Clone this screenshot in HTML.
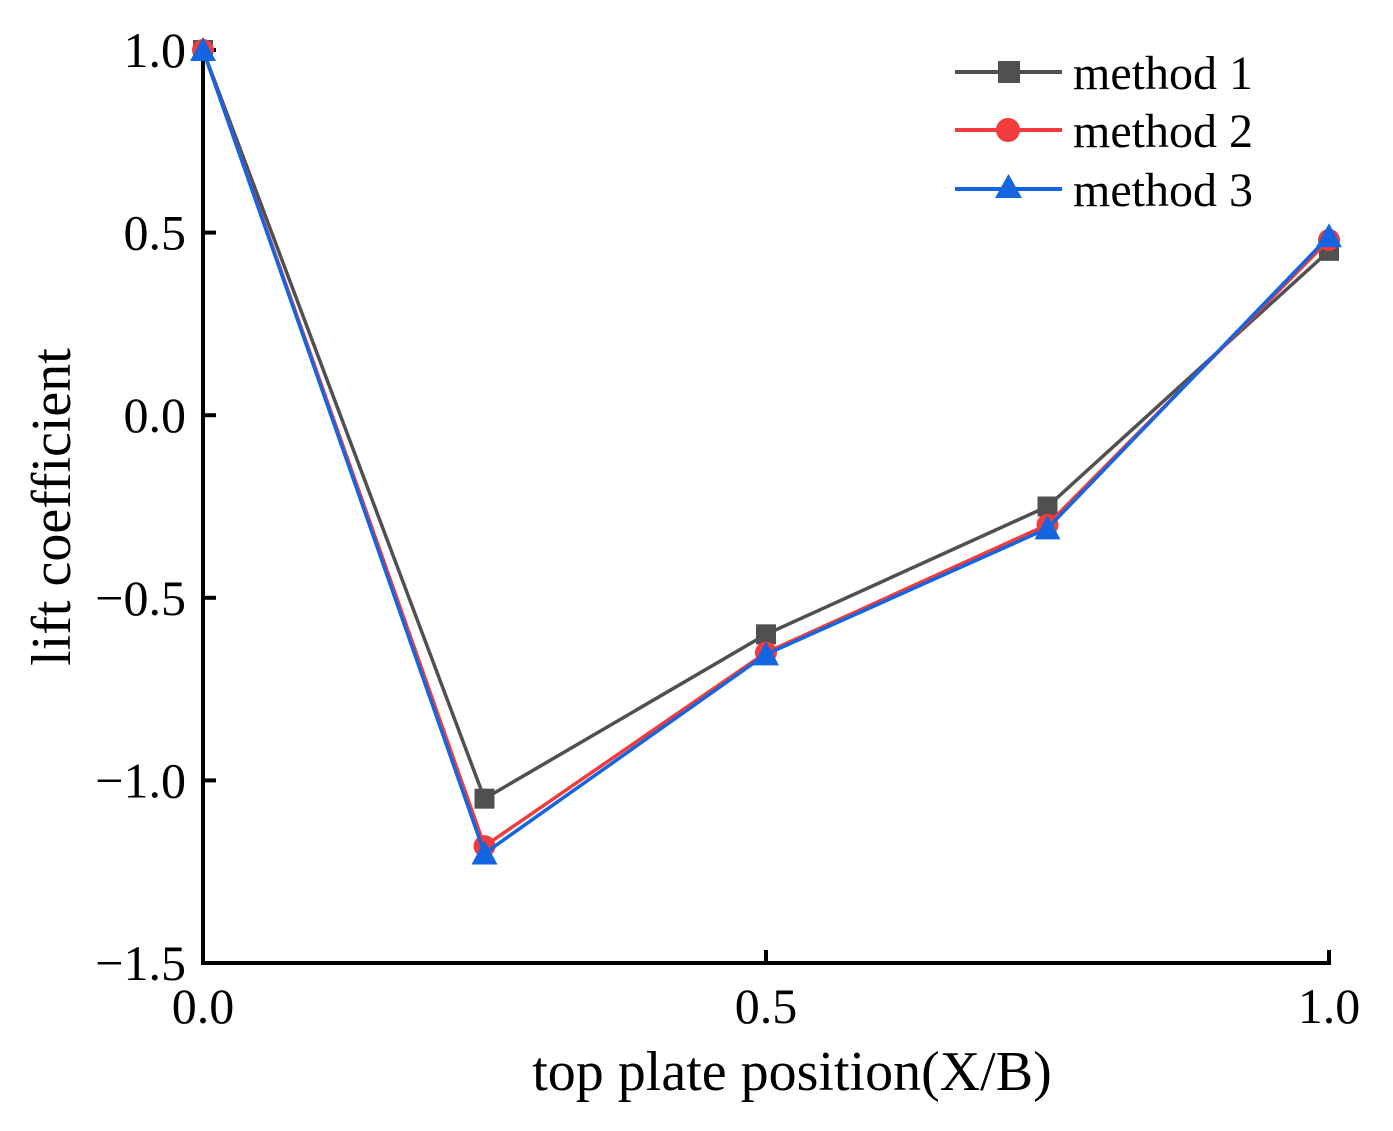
<!DOCTYPE html>
<html><head><meta charset="utf-8"><style>
html,body{margin:0;padding:0;background:#fff;}
svg{display:block;font-family:"Liberation Serif",serif;}
</style></head><body>
<svg id="chart" width="1393" height="1131">
<g id="axes"></g><g id="series"></g>
<g>
 <g>
  <line x1="955" y1="72" x2="1062" y2="72" stroke="#505050" stroke-width="4"/>
  <rect x="998" y="61" width="22" height="22" fill="#505050"/>
  <text x="1073" y="89" font-size="48">method 1</text></g>
 <g>
  <line x1="955" y1="130" x2="1062" y2="130" stroke="#f03c3c" stroke-width="4"/>
  <circle cx="1008" cy="130" r="12" fill="#f03c3c"/>
  <text x="1073" y="147" font-size="48">method 2</text></g>
 <g>
  <line x1="955" y1="189" x2="1062" y2="189" stroke="#1565e0" stroke-width="4"/>
  <polygon points="995,198 1022,198 1008.5,174" fill="#1565e0"/>
  <text x="1073" y="206" font-size="48">method 3</text></g>
</g>
<text x="792" y="1090" font-size="56" text-anchor="middle">top plate position(X/B)</text>
<text transform="translate(70,507) rotate(-90)" font-size="56" text-anchor="middle">lift coefficient</text>
</svg>
<script>
const categories=[0,0.25,0.5,0.75,1.0];
const method1=[1.0,-1.05,-0.60,-0.25,0.45];
const method2=[1.0,-1.18,-0.65,-0.30,0.48];
const method3=[1.0,-1.20,-0.655,-0.31,0.49];
const xTicks=[0,0.5,1.0];
const xTickLabels=["0.0","0.5","1.0"];
const yTicks=[-1.5,-1.0,-0.5,0,0.5,1.0];
const yTickLabels=["\u22121.5","\u22121.0","\u22120.5","0.0","0.5","1.0"];
const X0=203,X1=1329,Y0=963,Y1=50;
const xs=v=>X0+(v-0)/(1-0)*(X1-X0);
const ys=v=>Y0-(v+1.5)/2.5*(Y0-Y1);
const NS="http://www.w3.org/2000/svg";
function mk(tag,attrs,parent){const e=document.createElementNS(NS,tag);for(const k in attrs)e.setAttribute(k,attrs[k]);parent.appendChild(e);return e;}
const axes=document.getElementById('axes');
let a=mk('line',{x1:X0,y1:Y0,x2:X1+2,y2:Y0,stroke:'#000','stroke-width':4},axes);


a=mk('line',{x1:X0,y1:Y0+2,x2:X0,y2:Y1-2,stroke:'#000','stroke-width':4},axes);


xTicks.forEach((v,i)=>{
 const t=mk('line',{x1:xs(v),y1:Y0,x2:xs(v),y2:Y0-13,stroke:'#000','stroke-width':4},axes);
 
 
 const l=mk('text',{x:xs(v),y:Y0+60,'font-size':50,'text-anchor':'middle'},axes);l.textContent=xTickLabels[i];
 
 
});
yTicks.forEach((v,i)=>{
 const t=mk('line',{x1:X0,y1:ys(v),x2:X0+13,y2:ys(v),stroke:'#000','stroke-width':4},axes);
 
 
 const l=mk('text',{x:186,y:ys(v)+17,'font-size':50,'text-anchor':'end'},axes);l.textContent=yTickLabels[i];
 
 
});
const sg=document.getElementById('series');
function draw(vals,color,shape,name){
 const g=mk('g',{},sg);
 
 
 mk('polyline',{points:vals.map((v,i)=>xs(categories[i])+','+ys(v)).join(' '),fill:'none',stroke:color,'stroke-width':3.5},g);
 vals.forEach((v,i)=>{
  const x=xs(categories[i]),y=ys(v);let m;
  if(shape==='sq')m=mk('rect',{x:x-10,y:y-10,width:20,height:20,fill:color},g);
  else if(shape==='c')m=mk('circle',{cx:x,cy:y,r:11,fill:color},g);
  else m=mk('polygon',{points:`${x-13},${y+11} ${x+13},${y+11} ${x},${y-13}`,fill:color},g);
  
  
 });
}
draw(method1,'#505050','sq','series-method-1');
draw(method2,'#f03c3c','c','series-method-2');
draw(method3,'#1565e0','t','series-method-3');
</script>
</body></html>
